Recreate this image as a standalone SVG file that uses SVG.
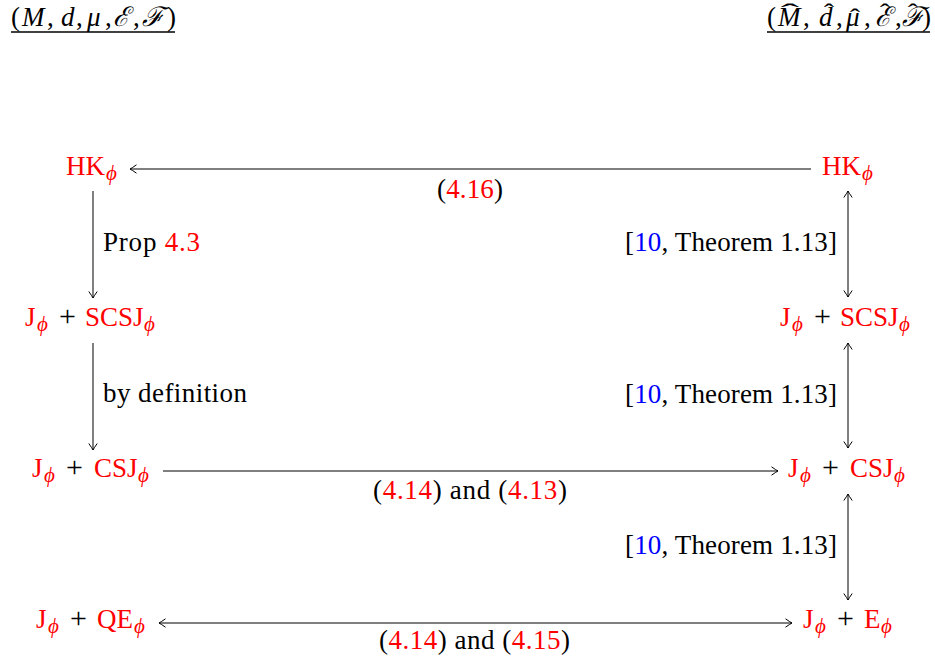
<svg xmlns="http://www.w3.org/2000/svg" width="935" height="672" viewBox="0 0 935 672">
<style>
text{font-family:"Liberation Serif","DejaVu Serif",serif;font-size:27px;fill:#000}
.r{fill:#ff0000}
.b{fill:#0000ff}
.i{font-style:italic}
.s{font-size:21px;font-style:italic}
.p{font-size:30px}
.h{font-size:24px}
.ln{stroke:#000;stroke-width:1;fill:none}
.ul{stroke:#000;stroke-width:1.4}
</style>
<defs>
<marker id="ah" viewBox="-9 -5 10 10" refX="0" refY="0" markerWidth="10" markerHeight="10" markerUnits="userSpaceOnUse" orient="auto-start-reverse">
<path d="M-6.5,-4.2 Q-2,-1 0,0 Q-2,1 -6.5,4.2" fill="none" stroke="#000" stroke-width="1"/>
</marker>
</defs>
<g id="title-left">
<text y="26"><tspan x="11">(</tspan><tspan x="22" class="i">M</tspan><tspan x="47">,</tspan><tspan x="61" class="i">d</tspan><tspan x="76">,</tspan><tspan x="87" class="i">μ</tspan><tspan x="105">,</tspan><tspan x="113" class="i">ℰ</tspan><tspan x="133">,</tspan><tspan x="142" class="i">ℱ</tspan><tspan x="167">)</tspan></text>
<line class="ul" x1="11" y1="32" x2="175" y2="32"/>
</g>
<g id="title-right">
<text y="26"><tspan x="767">(</tspan><tspan x="778" class="i">M</tspan><tspan x="803">,</tspan><tspan x="819" class="i">d</tspan><tspan x="836">,</tspan><tspan x="846" class="i">μ</tspan><tspan x="864">,</tspan><tspan x="875" class="i">ℰ</tspan><tspan x="895">,</tspan><tspan x="902" class="i">ℱ</tspan><tspan x="922">)</tspan></text>
<text class="h" text-anchor="middle" transform="translate(790,20) scale(2.3,1)">ˆ</text>
<text class="h" text-anchor="middle" transform="translate(829,20) scale(1.3,1)">ˆ</text>
<text class="h" text-anchor="middle" transform="translate(855,25) scale(1.3,1)">ˆ</text>
<text class="h" text-anchor="middle" transform="translate(885,20) scale(1.3,1)">ˆ</text>
<text class="h" text-anchor="middle" transform="translate(913,20) scale(1.3,1)">ˆ</text>
<line class="ul" x1="767" y1="32" x2="930" y2="32"/>
</g>
<g id="connectors">
<line class="ln" x1="811" y1="169" x2="130" y2="169" marker-end="url(#ah)"/>
<line class="ln" x1="93" y1="191" x2="93" y2="298" marker-end="url(#ah)"/>
<line class="ln" x1="93" y1="343" x2="93" y2="450" marker-end="url(#ah)"/>
<line class="ln" x1="163" y1="471" x2="778" y2="471" marker-end="url(#ah)"/>
<line class="ln" x1="848" y1="191" x2="848" y2="297" marker-start="url(#ah)" marker-end="url(#ah)"/>
<line class="ln" x1="848" y1="343" x2="848" y2="448" marker-start="url(#ah)" marker-end="url(#ah)"/>
<line class="ln" x1="848" y1="494" x2="848" y2="600" marker-start="url(#ah)" marker-end="url(#ah)"/>
<line class="ln" x1="159" y1="623" x2="792" y2="623" marker-start="url(#ah)" marker-end="url(#ah)"/>
<text x="437" y="198" textLength="66">(<tspan class="r">4.16</tspan>)</text>
<text x="103" y="251" textLength="97">Prop <tspan class="r">4.3</tspan></text>
<text x="103" y="402" textLength="144">by definition</text>
<text x="625" y="251" textLength="212">[<tspan class="b">10</tspan>, Theorem 1.13]</text>
<text x="625" y="403" textLength="212">[<tspan class="b">10</tspan>, Theorem 1.13]</text>
<text x="625" y="554" textLength="212">[<tspan class="b">10</tspan>, Theorem 1.13]</text>
<text x="373" y="499" textLength="194">(<tspan class="r">4.14</tspan>) and (<tspan class="r">4.13</tspan>)</text>
<text x="379" y="649" textLength="191">(<tspan class="r">4.14</tspan>) and (<tspan class="r">4.15</tspan>)</text>
</g>
<g id="hk-left"><text class="r"><tspan x="66" y="175">HK</tspan><tspan class="s" x="106" y="180">ϕ</tspan></text></g>
<g id="hk-right"><text class="r"><tspan x="822" y="175">HK</tspan><tspan class="s" x="862" y="180">ϕ</tspan></text></g>
<g id="scsj-left"><text><tspan class="r" x="25" y="326">J</tspan><tspan class="s r" x="37" y="331">ϕ</tspan><tspan class="p" x="59" y="326">+</tspan><tspan class="r" x="85" y="326">SCSJ</tspan><tspan class="s r" x="144" y="331">ϕ</tspan></text></g>
<g id="scsj-right"><text><tspan class="r" x="780" y="326">J</tspan><tspan class="s r" x="792" y="331">ϕ</tspan><tspan class="p" x="814" y="326">+</tspan><tspan class="r" x="840" y="326">SCSJ</tspan><tspan class="s r" x="899" y="331">ϕ</tspan></text></g>
<g id="csj-left"><text><tspan class="r" x="32" y="477">J</tspan><tspan class="s r" x="44" y="482">ϕ</tspan><tspan class="p" x="66" y="477">+</tspan><tspan class="r" x="94" y="477">CSJ</tspan><tspan class="s r" x="138" y="482">ϕ</tspan></text></g>
<g id="csj-right"><text><tspan class="r" x="788" y="477">J</tspan><tspan class="s r" x="800" y="482">ϕ</tspan><tspan class="p" x="822" y="477">+</tspan><tspan class="r" x="850" y="477">CSJ</tspan><tspan class="s r" x="894" y="482">ϕ</tspan></text></g>
<g id="qe-left"><text><tspan class="r" x="36" y="628">J</tspan><tspan class="s r" x="48" y="633">ϕ</tspan><tspan class="p" x="70" y="628">+</tspan><tspan class="r" x="97" y="628">QE</tspan><tspan class="s r" x="134" y="633">ϕ</tspan></text></g>
<g id="e-right"><text><tspan class="r" x="803" y="628">J</tspan><tspan class="s r" x="815" y="633">ϕ</tspan><tspan class="p" x="837" y="628">+</tspan><tspan class="r" x="864" y="628">E</tspan><tspan class="s r" x="881" y="633">ϕ</tspan></text></g>
</svg>
